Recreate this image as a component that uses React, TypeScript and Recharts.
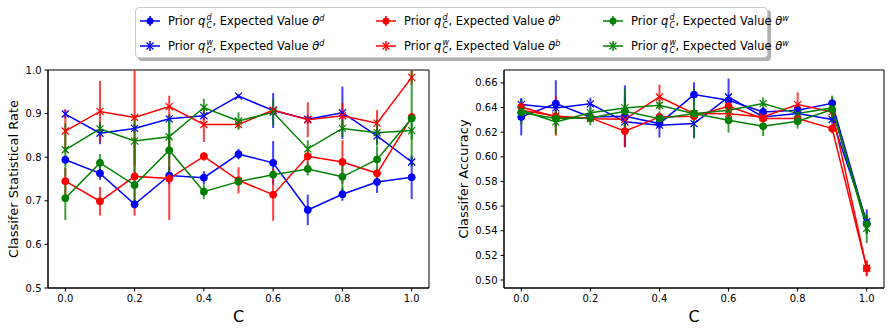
import React from "react";
import { ComposedChart, Line, XAxis, YAxis, ErrorBar, ReferenceArea } from "recharts";

const C_VALUES = [0, 0.1, 0.2, 0.3, 0.4, 0.5, 0.6, 0.7, 0.8, 0.9, 1.0];
const X_TICKS = [0, 0.2, 0.4, 0.6, 0.8, 1.0];
const LEFT_Y_TICKS = [0.5, 0.6, 0.7, 0.8, 0.9, 1.0];
const RIGHT_Y_TICKS = [0.5, 0.52, 0.54, 0.56, 0.58, 0.6, 0.62, 0.64, 0.66];

// Left: Classifier statistical rate
const rateBlueD = [0.794, 0.763, 0.692, 0.758, 0.753, 0.807, 0.787, 0.679, 0.715, 0.743, 0.754];
const rateBlueDErr = [0.01, 0.015, 0.01, 0.02, 0.015, 0.012, 0.05, 0.035, 0.015, 0.025, 0.05];
const rateBlueW = [0.899, 0.855, 0.866, 0.888, 0.895, 0.94, 0.907, 0.887, 0.902, 0.849, 0.789];
const rateBlueWErr = [0.01, 0.025, 0.01, 0.01, 0.01, 0.005, 0.04, 0.01, 0.06, 0.02, 0.01];
const rateRedD = [0.745, 0.699, 0.756, 0.751, 0.802, 0.747, 0.714, 0.802, 0.789, 0.763, 0.892];
const rateRedDErr = [0.03, 0.033, 0.09, 0.095, 0.01, 0.03, 0.06, 0.02, 0.05, 0.01, 0.01];
const rateRedW = [0.86, 0.905, 0.891, 0.916, 0.875, 0.875, 0.908, 0.886, 0.895, 0.878, 0.983];
const rateRedWErr = [0.05, 0.07, 0.109, 0.025, 0.04, 0.01, 0.01, 0.04, 0.03, 0.03, 0.017];
const rateGreenD = [0.706, 0.787, 0.736, 0.816, 0.721, 0.744, 0.76, 0.773, 0.755, 0.795, 0.889];
const rateGreenDErr = [0.05, 0.02, 0.05, 0.07, 0.017, 0.01, 0.01, 0.015, 0.04, 0.03, 0.11];
const rateGreenW = [0.817, 0.865, 0.837, 0.847, 0.914, 0.883, 0.903, 0.819, 0.866, 0.856, 0.861];
const rateGreenWErr = [0.06, 0.015, 0.05, 0.05, 0.02, 0.02, 0.03, 0.02, 0.02, 0.03, 0.02];

// Right: Classifier accuracy
const accBlueD = [0.6324, 0.6432, 0.6324, 0.633, 0.627, 0.6505, 0.6459, 0.6365, 0.6378, 0.6435, 0.546];
const accBlueDErr = [0.015, 0.019, 0.003, 0.025, 0.004, 0.01, 0.005, 0.004, 0.004, 0.003, 0.006];
const accBlueW = [0.6424, 0.6397, 0.643, 0.6284, 0.6257, 0.627, 0.6486, 0.6324, 0.6351, 0.6303, 0.5473];
const accBlueWErr = [0.005, 0.005, 0.005, 0.02, 0.01, 0.012, 0.015, 0.004, 0.004, 0.003, 0.01];
const accRedD = [0.6405, 0.6324, 0.6316, 0.6208, 0.6324, 0.633, 0.6411, 0.6311, 0.6311, 0.623, 0.5095];
const accRedDErr = [0.004, 0.004, 0.003, 0.013, 0.003, 0.004, 0.004, 0.003, 0.003, 0.004, 0.0065];
const accRedW = [0.6378, 0.6332, 0.631, 0.6305, 0.6486, 0.6351, 0.635, 0.6324, 0.6424, 0.6365, 0.5095];
const accRedWErr = [0.005, 0.016, 0.003, 0.005, 0.01, 0.003, 0.004, 0.004, 0.01, 0.004, 0.006];
const accGreenD = [0.636, 0.6311, 0.6316, 0.637, 0.631, 0.6351, 0.6297, 0.6249, 0.6289, 0.6384, 0.5454];
const accGreenDErr = [0.01, 0.005, 0.006, 0.018, 0.006, 0.02, 0.01, 0.008, 0.006, 0.01, 0.008];
const accGreenW = [0.6378, 0.6284, 0.6357, 0.6397, 0.6419, 0.635, 0.6378, 0.6432, 0.6351, 0.6397, 0.542];
const accGreenWErr = [0.005, 0.01, 0.004, 0.005, 0.004, 0.005, 0.005, 0.005, 0.005, 0.01, 0.012];

const BLUE = "#0000ff";
const RED = "#ff0000";
const GREEN = "#008000";
const FONT = "'DejaVu Sans', sans-serif";

type SeriesDef = { key: string; color: string; marker: "o" | "x"; prior: string; theta: string };
const SERIES: SeriesDef[] = [
  { key: "bd", color: BLUE, marker: "o", prior: "d", theta: "d" },
  { key: "bw", color: BLUE, marker: "x", prior: "w", theta: "d" },
  { key: "rd", color: RED, marker: "o", prior: "d", theta: "b" },
  { key: "rw", color: RED, marker: "x", prior: "w", theta: "b" },
  { key: "gd", color: GREEN, marker: "o", prior: "d", theta: "w" },
  { key: "gw", color: GREEN, marker: "x", prior: "w", theta: "w" },
];

function buildRows(vals: number[][], errs: number[][]) {
  return C_VALUES.map((c, i) => {
    const row: any = { c };
    SERIES.forEach((s, k) => {
      row[s.key] = vals[k][i];
      row[s.key + "Err"] = errs[k][i];
    });
    return row;
  });
}

const rateRows = buildRows(
  [rateBlueD, rateBlueW, rateRedD, rateRedW, rateGreenD, rateGreenW],
  [rateBlueDErr, rateBlueWErr, rateRedDErr, rateRedWErr, rateGreenDErr, rateGreenWErr]
);
const accRows = buildRows(
  [accBlueD, accBlueW, accRedD, accRedW, accGreenD, accGreenW],
  [accBlueDErr, accBlueWErr, accRedDErr, accRedWErr, accGreenDErr, accGreenWErr]
);

function XMark({ cx, cy, color, s = 3.5 }: { cx: number; cy: number; color: string; s?: number }) {
  if (cx == null || cy == null || isNaN(cx) || isNaN(cy)) return null;
  return (
    <path
      d={`M${cx - s},${cy - s}L${cx + s},${cy + s}M${cx - s},${cy + s}L${cx + s},${cy - s}`}
      stroke={color}
      strokeWidth={1.2}
      fill="none"
    />
  );
}

const tickStyle = { fontSize: 10, fill: "#000", fontFamily: FONT };
const X_DOMAIN: [number, number] = [-0.05, 1.05];

function Panel({
  rows,
  width,
  yTicks,
  yDomain,
  yWidth,
  right,
  digits,
}: {
  rows: any[];
  width: number;
  yTicks: number[];
  yDomain: [number, number];
  yWidth: number;
  right: number;
  digits: number;
}) {
  return (
    <ComposedChart width={width} height={331} data={rows} margin={{ top: 70, right, bottom: 13, left: 0 }}>
      <XAxis
        dataKey="c"
        type="number"
        domain={X_DOMAIN}
        ticks={X_TICKS}
        tickFormatter={(v: number) => v.toFixed(1)}
        tick={tickStyle}
        tickSize={3.5}
        tickMargin={3}
        height={30}
        axisLine={{ stroke: "#000" }}
        tickLine={{ stroke: "#000" }}
        allowDataOverflow
      />
      <YAxis
        type="number"
        domain={yDomain}
        ticks={yTicks}
        tickFormatter={(v: number) => v.toFixed(digits)}
        tick={tickStyle}
        tickSize={3.5}
        tickMargin={3}
        width={yWidth}
        axisLine={{ stroke: "#000" }}
        tickLine={{ stroke: "#000" }}
        allowDataOverflow
        interval={0}
      />
      <ReferenceArea
        x1={X_DOMAIN[0]}
        x2={X_DOMAIN[1]}
        y1={yDomain[0]}
        y2={yDomain[1]}
        fill="none"
        fillOpacity={0}
        stroke="#000"
        strokeWidth={1}
        strokeOpacity={1}
        ifOverflow="visible"
      />
      {SERIES.map((s) => (
        <Line
          key={s.key}
          dataKey={s.key}
          stroke={s.color}
          strokeWidth={1.5}
          isAnimationActive={false}
          dot={
            s.marker === "o"
              ? { r: 3.5, fill: s.color, stroke: s.color, strokeWidth: 1 }
              : (p: any) => <XMark key={`${s.key}-${p.index}`} cx={p.cx} cy={p.cy} color={s.color} />
          }
          activeDot={false}
        >
          <ErrorBar
            dataKey={s.key + "Err"}
            direction="y"
            width={0}
            stroke={s.color}
            strokeWidth={2}
            strokeOpacity={0.75}
            isAnimationActive={false}
          />
        </Line>
      ))}
    </ComposedChart>
  );
}

function LegendHandle({ color, marker }: { color: string; marker: "o" | "x" }) {
  return (
    <svg width={24} height={14} style={{ display: "block" }}>
      <line x1={2} y1={7} x2={22} y2={7} stroke={color} strokeWidth={1.5} />
      <line x1={12} y1={2} x2={12} y2={12} stroke={color} strokeWidth={2} strokeOpacity={0.75} />
      {marker === "o" ? (
        <circle cx={12} cy={7} r={3.5} fill={color} />
      ) : (
        <XMark cx={12} cy={7} color={color} />
      )}
    </svg>
  );
}

function LegendLabel({ prior, theta }: { prior: string; theta: string }) {
  return (
    <span style={{ whiteSpace: "nowrap" }}>
      Prior <i>q</i>
      <span style={{ position: "relative", display: "inline-block", width: 7, height: 11.5 }}>
        <i style={{ position: "absolute", left: 1, top: 0, fontSize: 8, lineHeight: "8px" }}>{prior}</i>
        <i style={{ position: "absolute", left: 1, top: 8, fontSize: 8, lineHeight: "8px" }}>C</i>
      </span>
      , Expected Value <i>θ</i>
      <span style={{ fontSize: 8, verticalAlign: "0.55em", fontStyle: "italic" }}>{theta}</span>
    </span>
  );
}

const LEGEND_COLS = [0, 236, 463];

function Legend() {
  return (
    <div
      style={{
        position: "absolute",
        left: 135,
        top: 7,
        width: 631,
        height: 49,
        border: "1px solid #cccccc",
        borderRadius: 4,
        background: "#fff",
        boxShadow: "3px 3px 0 #b0b0b0",
        fontFamily: FONT,
        fontSize: 11.5,
        color: "#000",
      }}
    >
      {SERIES.map((s, i) => {
        const col = Math.floor(i / 2);
        const row = i % 2;
        return (
          <div
            key={s.key}
            style={{
              position: "absolute",
              left: 2 + LEGEND_COLS[col],
              top: 4 + row * 25,
              height: 18,
              display: "flex",
              alignItems: "center",
            }}
          >
            <LegendHandle color={s.color} marker={s.marker} />
            <span style={{ marginLeft: 6 }}>
              <LegendLabel prior={s.prior} theta={s.theta} />
            </span>
          </div>
        );
      })}
    </div>
  );
}

export default function App() {
  return (
    <div
      style={{
        position: "absolute",
        left: 0,
        top: 0,
        width: 894,
        height: 331,
        background: "#fff",
        fontFamily: FONT,
        overflow: "hidden",
      }}
    >
      <div style={{ position: "absolute", left: 0, top: 0 }}>
        <Panel rows={rateRows} width={440} yTicks={LEFT_Y_TICKS} yDomain={[0.5, 1.0]} yWidth={48} right={11} digits={1} />
      </div>
      <div style={{ position: "absolute", left: 440, top: 0 }}>
        <Panel rows={accRows} width={454} yTicks={RIGHT_Y_TICKS} yDomain={[0.4935, 0.6705]} yWidth={64} right={10} digits={2} />
      </div>
      <svg
        width={894}
        height={331}
        style={{ position: "absolute", left: 0, top: 0, pointerEvents: "none" }}
      >
        <text x={13} y={179} transform="rotate(-90 13 179)" textAnchor="middle" dominantBaseline="central" fontSize={13} fontFamily={FONT} fill="#000">
          Classifer Statistical Rate
        </text>
        <text x={463} y={179} transform="rotate(-90 463 179)" textAnchor="middle" dominantBaseline="central" fontSize={13} fontFamily={FONT} fill="#000">
          Classifer Accuracy
        </text>
        <text x={238.5} y={322} textAnchor="middle" fontSize={16} fontFamily={FONT} fill="#000">
          C
        </text>
        <text x={694} y={322} textAnchor="middle" fontSize={16} fontFamily={FONT} fill="#000">
          C
        </text>
      </svg>
      <Legend />
    </div>
  );
}
